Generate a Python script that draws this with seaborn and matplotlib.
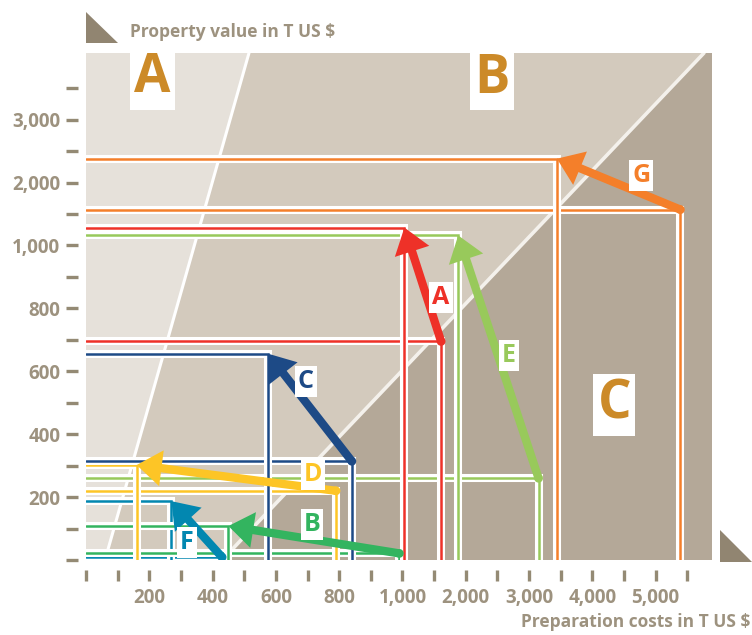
import numpy as np
import pandas as pd
import matplotlib
matplotlib.use("Agg")
import matplotlib.pyplot as plt
import seaborn as sns
from matplotlib.patches import Polygon

# ---- data ----
options = ["A", "B", "C", "D", "E", "F", "G"]
cost_from = [1610, 990, 840, 790, 3150, 430, 5390]     # preparation costs, before (T US $)
value_from = [695, 21, 314, 220, 260, 9, 1570]         # property value, before
cost_to = [1030, 450, 575, 160, 1880, 270, 3440]       # after
value_to = [1285, 108, 656, 302, 1160, 187, 2380]

zone_ab_x = [60, 515]      # A/B border: x at y=0 and at the top
zone_bc_x = [430, 5763]    # B/C border
x_max, y_max = 5890, 4060

x_labels = [200, 400, 600, 800, 1000, 2000, 3000, 4000, 5000]
y_labels = [200, 400, 600, 800, 1000, 2000, 3000]
x_ticks = list(range(0, 1001, 100)) + list(range(1500, 5501, 500))
y_ticks = list(range(0, 1001, 100)) + list(range(1500, 3501, 500))

colors = {"A": "#ee3128", "B": "#33b45f", "C": "#1d4a86", "D": "#fdc526",
          "E": "#98c95b", "F": "#0287b0", "G": "#f47f2a"}

df = pd.DataFrame({"option": options, "cost_from": cost_from, "value_from": value_from,
                   "cost_to": cost_to, "value_to": value_to})

TICK = "#948a74"
LABEL = "#9d927f"
OCHRE = "#cc8a28"


def fwd(v):
    v = np.asarray(v, dtype=float)
    return np.where(v <= 1000, v / 200.0, 5 + (v - 1000) / 1000.0)


def inv(u):
    u = np.asarray(u, dtype=float)
    return np.where(u <= 5, u * 200.0, 1000 + (u - 5) * 1000.0)


sns.set_theme(style="white")
plt.rcParams["font.family"] = ["Open Sans", "DejaVu Sans"]

fig = plt.figure(figsize=(7.52, 6.35), dpi=100)
ax = fig.add_axes([86 / 752, 75 / 635, 626 / 752, 507 / 635])
ax.set_xscale("function", functions=(fwd, inv))
ax.set_yscale("function", functions=(fwd, inv))
ax.set_xlim(0, x_max)
ax.set_ylim(0, y_max)

# zones
ax.fill([0, zone_ab_x[0], zone_ab_x[1], 0], [0, 0, y_max, y_max], color="#e6e1da", lw=0, zorder=1)
ax.fill([zone_ab_x[0], zone_bc_x[0], zone_bc_x[1], zone_ab_x[1]], [0, 0, y_max, y_max],
        color="#d3cabd", lw=0, zorder=1)
ax.fill([zone_bc_x[0], x_max, x_max, zone_bc_x[1]], [0, 0, y_max, y_max], color="#b4a898", lw=0, zorder=1)
ax.plot(zone_ab_x, [0, y_max], color="white", lw=2.2, zorder=2)
ax.plot(zone_bc_x, [0, y_max], color="#f4f1ec", lw=2.6, zorder=2)

# guide lines from each point to both axes
draw_order = ["E", "F", "B", "D", "C", "A", "G"]
z = 3
for opt in draw_order:
    r = df[df["option"] == opt].iloc[0]
    for cx, vy in [(r["cost_from"], r["value_from"]), (r["cost_to"], r["value_to"])]:
        ax.plot([0, cx, cx], [vy, vy, 0], color="white", lw=5.8, solid_joinstyle="miter",
                solid_capstyle="projecting", zorder=z)
        ax.plot([0, cx, cx], [vy, vy, 0], color=colors[opt], lw=1.8, solid_joinstyle="miter",
                zorder=z + 0.5)
        z += 1

# arrows
for _, r in df.iterrows():
    ax.annotate("", xy=(r["cost_to"], r["value_to"]), xytext=(r["cost_from"], r["value_from"]),
                arrowprops=dict(arrowstyle="simple,head_length=1.8,head_width=2.6,tail_width=0.6",
                                mutation_scale=10, fc=colors[r["option"]], ec="none", lw=0,
                                shrinkA=0, shrinkB=0), zorder=40)
sns.scatterplot(data=df, x="cost_from", y="value_from", hue="option", palette=colors, s=40,
                linewidth=0, legend=False, zorder=41, ax=ax)

# arrow letters (axes fractions)
letter_pos = {"A": (0.567, 0.517), "B": (0.361, 0.071), "C": (0.351, 0.352), "D": (0.363, 0.168),
              "E": (0.676, 0.403), "F": (0.161, 0.034), "G": (0.887, 0.759)}
for opt, (fx, fy) in letter_pos.items():
    ax.text(fx, fy, opt, transform=ax.transAxes, ha="center", va="center", fontsize=18,
            fontweight="bold", color=colors[opt], zorder=45,
            bbox=dict(boxstyle="square,pad=0.12", fc="white", ec="none"))

# zone letters
for txt, (fx, fy) in {"A": (0.106, 0.950), "B": (0.648, 0.949), "C": (0.844, 0.306)}.items():
    ax.text(fx, fy, txt, transform=ax.transAxes, ha="center", va="center", fontsize=38,
            fontweight="bold", color=OCHRE, zorder=30,
            bbox=dict(boxstyle="square,pad=0.08", fc="white", ec="none"))

# axes styling
ax.set_xticks(x_ticks)
ax.set_xticklabels([f"{t:,}" if t in x_labels else "" for t in x_ticks])
ax.set_yticks(y_ticks)
ax.set_yticklabels([f"{t:,}" if t in y_labels else "" for t in y_ticks])
ax.minorticks_off()
for s in ax.spines.values():
    s.set_visible(False)
ax.spines["bottom"].set_position(("outward", 7))
ax.spines["left"].set_position(("outward", 6))
ax.tick_params(axis="both", which="major", direction="out", bottom=True, left=True,
               color=TICK, labelcolor=LABEL, labelsize=13.5)
ax.tick_params(axis="x", length=8, width=2.4, pad=5)
ax.tick_params(axis="y", length=8.6, width=2.4, pad=4)
for lab in ax.get_xticklabels() + ax.get_yticklabels():
    lab.set_fontweight("bold")
ax.set_xlabel("")
ax.set_ylabel("")
ax.grid(False)

# axis titles and corner triangles
fig.text(130 / 752, 1 - 32 / 635, "Property value in T US $", ha="left", va="center",
         fontsize=12.5, fontweight="bold", color=LABEL)
fig.text(750 / 752, 1 - 622 / 635, "Preparation costs in T US $", ha="right", va="center",
         fontsize=12.5, fontweight="bold", color=LABEL)
for tri in ([(86, 12), (86, 43), (118, 43)], [(720, 530), (720, 562), (752, 562)]):
    fig.patches.append(Polygon([(px / 752, 1 - py / 635) for px, py in tri], closed=True,
                               transform=fig.transFigure, fc="#918571", ec="none"))

fig.savefig("out.png", dpi=100)
